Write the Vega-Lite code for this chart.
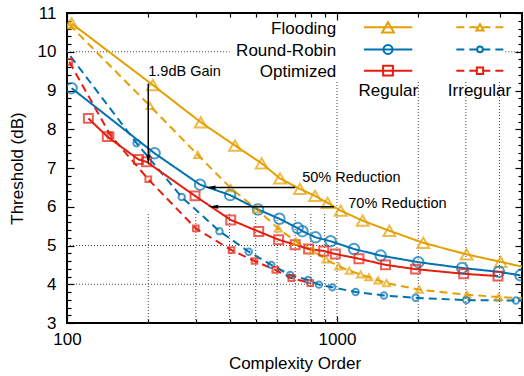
{
  "$schema": "https://vega.github.io/schema/vega-lite/v6.json",
  "width": 455,
  "height": 310,
  "autosize": {"type": "none"},
  "padding": {"left": 67, "top": 13, "right": 2, "bottom": 53},
  "config": {
    "font": "Liberation Sans",
    "view": {"stroke": "black", "strokeWidth": 2},
    "axis": {"grid": false, "domain": false, "tickColor": "black", "tickWidth": 1.2, "labelColor": "black", "titleColor": "black"}
  },
  "resolve": {"scale": {"size": "independent"}, "axis": {"x": "independent", "y": "independent"}},
  "datasets": {
    "curves": [
      {"method": "Flooding", "type": "Regular", "x": 104, "y": 10.73},
      {"method": "Flooding", "type": "Regular", "x": 208, "y": 9.14},
      {"method": "Flooding", "type": "Regular", "x": 313, "y": 8.18},
      {"method": "Flooding", "type": "Regular", "x": 419, "y": 7.58},
      {"method": "Flooding", "type": "Regular", "x": 526, "y": 7.12},
      {"method": "Flooding", "type": "Regular", "x": 615, "y": 6.73},
      {"method": "Flooding", "type": "Regular", "x": 729, "y": 6.46},
      {"method": "Flooding", "type": "Regular", "x": 829, "y": 6.28},
      {"method": "Flooding", "type": "Regular", "x": 923, "y": 6.10},
      {"method": "Flooding", "type": "Regular", "x": 1032, "y": 5.90},
      {"method": "Flooding", "type": "Regular", "x": 1245, "y": 5.64},
      {"method": "Flooding", "type": "Regular", "x": 1563, "y": 5.38},
      {"method": "Flooding", "type": "Regular", "x": 2088, "y": 5.07},
      {"method": "Flooding", "type": "Regular", "x": 3020, "y": 4.77},
      {"method": "Flooding", "type": "Regular", "x": 4038, "y": 4.58},
      {"method": "Flooding", "type": "Regular", "x": 5000, "y": 4.43},
      {"method": "Flooding", "type": "Irregular", "x": 102, "y": 10.70},
      {"method": "Flooding", "type": "Irregular", "x": 203, "y": 8.60},
      {"method": "Flooding", "type": "Irregular", "x": 305, "y": 7.34},
      {"method": "Flooding", "type": "Irregular", "x": 404, "y": 6.48},
      {"method": "Flooding", "type": "Irregular", "x": 504, "y": 5.94},
      {"method": "Flooding", "type": "Irregular", "x": 606, "y": 5.44},
      {"method": "Flooding", "type": "Irregular", "x": 705, "y": 5.10},
      {"method": "Flooding", "type": "Irregular", "x": 813, "y": 4.87},
      {"method": "Flooding", "type": "Irregular", "x": 911, "y": 4.64},
      {"method": "Flooding", "type": "Irregular", "x": 1015, "y": 4.46},
      {"method": "Flooding", "type": "Irregular", "x": 1111, "y": 4.35},
      {"method": "Flooding", "type": "Irregular", "x": 1223, "y": 4.25},
      {"method": "Flooding", "type": "Irregular", "x": 1312, "y": 4.18},
      {"method": "Flooding", "type": "Irregular", "x": 1419, "y": 4.10},
      {"method": "Flooding", "type": "Irregular", "x": 1527, "y": 4.03},
      {"method": "Flooding", "type": "Irregular", "x": 2018, "y": 3.86},
      {"method": "Flooding", "type": "Irregular", "x": 3030, "y": 3.73},
      {"method": "Flooding", "type": "Irregular", "x": 3972, "y": 3.67},
      {"method": "Flooding", "type": "Irregular", "x": 5000, "y": 3.63},
      {"method": "Round-Robin", "type": "Regular", "x": 104, "y": 9.06},
      {"method": "Round-Robin", "type": "Regular", "x": 211, "y": 7.38},
      {"method": "Round-Robin", "type": "Regular", "x": 311, "y": 6.57},
      {"method": "Round-Robin", "type": "Regular", "x": 402, "y": 6.30},
      {"method": "Round-Robin", "type": "Regular", "x": 510, "y": 5.93},
      {"method": "Round-Robin", "type": "Regular", "x": 612, "y": 5.69},
      {"method": "Round-Robin", "type": "Regular", "x": 715, "y": 5.45},
      {"method": "Round-Robin", "type": "Regular", "x": 745, "y": 5.37},
      {"method": "Round-Robin", "type": "Regular", "x": 833, "y": 5.21},
      {"method": "Round-Robin", "type": "Regular", "x": 947, "y": 5.11},
      {"method": "Round-Robin", "type": "Regular", "x": 1156, "y": 4.91},
      {"method": "Round-Robin", "type": "Regular", "x": 1451, "y": 4.74},
      {"method": "Round-Robin", "type": "Regular", "x": 2000, "y": 4.57},
      {"method": "Round-Robin", "type": "Regular", "x": 2907, "y": 4.42},
      {"method": "Round-Robin", "type": "Regular", "x": 3976, "y": 4.32},
      {"method": "Round-Robin", "type": "Regular", "x": 4780, "y": 4.23},
      {"method": "Round-Robin", "type": "Irregular", "x": 90, "y": 10.42},
      {"method": "Round-Robin", "type": "Irregular", "x": 181, "y": 7.64},
      {"method": "Round-Robin", "type": "Irregular", "x": 266, "y": 6.25},
      {"method": "Round-Robin", "type": "Irregular", "x": 367, "y": 5.37},
      {"method": "Round-Robin", "type": "Irregular", "x": 471, "y": 4.84},
      {"method": "Round-Robin", "type": "Irregular", "x": 571, "y": 4.50},
      {"method": "Round-Robin", "type": "Irregular", "x": 671, "y": 4.24},
      {"method": "Round-Robin", "type": "Irregular", "x": 782, "y": 4.11},
      {"method": "Round-Robin", "type": "Irregular", "x": 857, "y": 3.99},
      {"method": "Round-Robin", "type": "Irregular", "x": 961, "y": 3.92},
      {"method": "Round-Robin", "type": "Irregular", "x": 1172, "y": 3.80},
      {"method": "Round-Robin", "type": "Irregular", "x": 1493, "y": 3.71},
      {"method": "Round-Robin", "type": "Irregular", "x": 1955, "y": 3.65},
      {"method": "Round-Robin", "type": "Irregular", "x": 3013, "y": 3.59},
      {"method": "Round-Robin", "type": "Irregular", "x": 4600, "y": 3.58},
      {"method": "Round-Robin", "type": "Irregular", "x": 5500, "y": 3.57},
      {"method": "Optimized", "type": "Regular", "x": 120, "y": 8.28},
      {"method": "Optimized", "type": "Regular", "x": 141, "y": 7.81},
      {"method": "Optimized", "type": "Regular", "x": 184, "y": 7.22},
      {"method": "Optimized", "type": "Regular", "x": 197, "y": 7.16},
      {"method": "Optimized", "type": "Regular", "x": 298, "y": 6.28},
      {"method": "Optimized", "type": "Regular", "x": 404, "y": 5.66},
      {"method": "Optimized", "type": "Regular", "x": 513, "y": 5.36},
      {"method": "Optimized", "type": "Regular", "x": 608, "y": 5.15},
      {"method": "Optimized", "type": "Regular", "x": 700, "y": 5.02},
      {"method": "Optimized", "type": "Regular", "x": 785, "y": 4.91},
      {"method": "Optimized", "type": "Regular", "x": 893, "y": 4.86},
      {"method": "Optimized", "type": "Regular", "x": 986, "y": 4.78},
      {"method": "Optimized", "type": "Regular", "x": 1206, "y": 4.66},
      {"method": "Optimized", "type": "Regular", "x": 1512, "y": 4.50},
      {"method": "Optimized", "type": "Regular", "x": 1955, "y": 4.39},
      {"method": "Optimized", "type": "Regular", "x": 2946, "y": 4.27},
      {"method": "Optimized", "type": "Regular", "x": 3948, "y": 4.21},
      {"method": "Optimized", "type": "Irregular", "x": 102, "y": 9.74},
      {"method": "Optimized", "type": "Irregular", "x": 145, "y": 7.84},
      {"method": "Optimized", "type": "Irregular", "x": 200, "y": 6.71},
      {"method": "Optimized", "type": "Irregular", "x": 300, "y": 5.44},
      {"method": "Optimized", "type": "Irregular", "x": 407, "y": 4.88},
      {"method": "Optimized", "type": "Irregular", "x": 495, "y": 4.60},
      {"method": "Optimized", "type": "Irregular", "x": 591, "y": 4.37},
      {"method": "Optimized", "type": "Irregular", "x": 677, "y": 4.16},
      {"method": "Optimized", "type": "Irregular", "x": 796, "y": 4.03}
    ],
    "vgrid": [
      {"gx": 200, "lo": 3, "hi": 5.85},
      {"gx": 300, "lo": 3, "hi": 5.85},
      {"gx": 400, "lo": 3, "hi": 5.85},
      {"gx": 500, "lo": 3, "hi": 5.85},
      {"gx": 600, "lo": 3, "hi": 5.85},
      {"gx": 700, "lo": 3, "hi": 5.85},
      {"gx": 800, "lo": 3, "hi": 5.85},
      {"gx": 900, "lo": 3, "hi": 5.85},
      {"gx": 1000, "lo": 3, "hi": 9.27},
      {"gx": 2000, "lo": 3, "hi": 9.27},
      {"gx": 3000, "lo": 3, "hi": 9.27},
      {"gx": 4000, "lo": 3, "hi": 9.27}
    ],
    "hgrid": [
      {"gy": 4, "xa": 100, "xb": 1000},
      {"gy": 5, "xa": 100, "xb": 1000},
      {"gy": 10, "xa": 100, "xb": 400},
      {"gy": 10, "xa": 4200, "xb": 4844}
    ]
  },
  "layer": [
    {
      "data": {"name": "vgrid"},
      "mark": {"type": "rule", "strokeDash": [1, 2], "strokeWidth": 1, "color": "#444"},
      "encoding": {
        "x": {"field": "gx", "type": "quantitative", "axis": null},
        "y": {"field": "lo", "type": "quantitative", "axis": null},
        "y2": {"field": "hi"}
      }
    },
    {
      "data": {"name": "hgrid"},
      "mark": {"type": "rule", "strokeDash": [1, 2], "strokeWidth": 1, "color": "#444"},
      "encoding": {
        "y": {"field": "gy", "type": "quantitative", "axis": null},
        "x": {"field": "xa", "type": "quantitative", "axis": null},
        "x2": {"field": "xb"}
      }
    },
    {
      "data": {"name": "curves"},
      "mark": {"type": "line", "strokeWidth": 2, "clip": true},
      "encoding": {
        "x": {
          "field": "x", "type": "quantitative",
          "scale": {"type": "log", "domain": [100, 4844], "nice": false},
          "axis": {
            "orient": "bottom",
            "values": [100, 200, 300, 400, 500, 600, 700, 800, 900, 1000, 2000, 3000, 4000],
            "format": "d",
            "labelExpr": "datum.value == 100 || datum.value == 1000 ? datum.label : ''",
            "tickSize": {"condition": {"test": "datum.value == 100 || datum.value == 1000", "value": -7}, "value": -4},
            "labelFlush": false,
            "labelFontSize": 17,
            "labelPadding": 15,
            "labelOverlap": false,
            "title": "Complexity Order",
            "titleFontSize": 17,
            "titleFontWeight": "normal",
            "titlePadding": 5
          }
        },
        "y": {
          "field": "y", "type": "quantitative",
          "scale": {"domain": [3, 11], "nice": false, "zero": false},
          "axis": {
            "orient": "left",
            "values": [3, 3.2, 3.4, 3.6, 3.8, 4, 4.2, 4.4, 4.6, 4.8, 5, 5.2, 5.4, 5.6, 5.8, 6, 6.2, 6.4, 6.6, 6.8, 7, 7.2, 7.4, 7.6, 7.8, 8, 8.2, 8.4, 8.6, 8.8, 9, 9.2, 9.4, 9.6, 9.8, 10, 10.2, 10.4, 10.6, 10.8, 11],
            "labelExpr": "abs(datum.value - round(datum.value)) < 0.01 ? format(datum.value, 'd') : ''",
            "tickSize": {"condition": {"test": "abs(datum.value - round(datum.value)) < 0.01", "value": -7}, "value": -4},
            "labelFontSize": 17,
            "labelPadding": 18,
            "labelOverlap": false,
            "title": "Threshold (dB)",
            "titleFontSize": 17,
            "titleFontWeight": "normal",
            "titlePadding": 11
          }
        },
        "stroke": {
          "field": "method", "type": "nominal",
          "scale": {"domain": ["Flooding", "Round-Robin", "Optimized"], "range": ["#E69F00", "#0072B2", "#E51E10"]},
          "legend": null
        },
        "strokeDash": {
          "field": "type", "type": "nominal",
          "scale": {"domain": ["Regular", "Irregular"], "range": [[1, 0], [8, 5]]},
          "legend": null
        }
      }
    },
    {
      "data": {"name": "curves"},
      "transform": [{"filter": "datum.type == 'Regular' && datum.x >= 100 && datum.x <= 4844"}],
      "mark": {"type": "point", "filled": false, "strokeWidth": 2, "clip": true},
      "encoding": {
        "x": {"field": "x", "type": "quantitative", "axis": null},
        "y": {"field": "y", "type": "quantitative", "axis": null},
        "stroke": {"field": "method", "type": "nominal", "legend": null},
        "shape": {"field": "method", "type": "nominal", "scale": {"domain": ["Flooding", "Round-Robin", "Optimized"], "range": ["triangle-up", "circle", "square"]}, "legend": null},
        "size": {"field": "method", "type": "nominal", "scale": {"domain": ["Flooding", "Round-Robin", "Optimized"], "range": [140, 80, 95]}, "legend": null}
      }
    },
    {
      "data": {"name": "curves"},
      "transform": [{"filter": "datum.type == 'Irregular' && datum.x >= 100 && datum.x <= 4844"}],
      "mark": {"type": "point", "filled": false, "strokeWidth": 2, "clip": true},
      "encoding": {
        "x": {
          "field": "x", "type": "quantitative",
          "axis": {
            "orient": "top",
            "values": [100, 200, 300, 400, 500, 600, 700, 800, 900, 1000, 2000, 3000, 4000],
            "labels": false,
            "tickSize": {"condition": {"test": "datum.value == 100 || datum.value == 1000", "value": -7}, "value": -4},
            "title": null
          }
        },
        "y": {
          "field": "y", "type": "quantitative",
          "axis": {
            "orient": "right",
            "values": [3, 3.2, 3.4, 3.6, 3.8, 4, 4.2, 4.4, 4.6, 4.8, 5, 5.2, 5.4, 5.6, 5.8, 6, 6.2, 6.4, 6.6, 6.8, 7, 7.2, 7.4, 7.6, 7.8, 8, 8.2, 8.4, 8.6, 8.8, 9, 9.2, 9.4, 9.6, 9.8, 10, 10.2, 10.4, 10.6, 10.8, 11],
            "labels": false,
            "tickSize": {"condition": {"test": "abs(datum.value - round(datum.value)) < 0.01", "value": -7}, "value": -4},
            "title": null
          }
        },
        "stroke": {"field": "method", "type": "nominal", "legend": null},
        "shape": {"field": "method", "type": "nominal", "legend": null},
        "size": {"field": "method", "type": "nominal", "scale": {"domain": ["Flooding", "Round-Robin", "Optimized"], "range": [50, 32, 40]}, "legend": null}
      }
    },
    {
      "data": {"values": [{}]},
      "layer": [
        {
          "mark": {"type": "rule", "color": "black", "strokeWidth": 1.5},
          "encoding": {
            "x": {"datum": 200, "type": "quantitative", "axis": null},
            "y": {"datum": 9.18, "type": "quantitative", "axis": null},
            "y2": {"datum": 7.21}
          }
        },
        {
          "mark": {"type": "point", "shape": "M0,1L-0.4,-1L0.4,-1Z", "filled": true, "color": "black", "size": 100, "opacity": 1},
          "encoding": {
            "x": {"datum": 200, "type": "quantitative", "axis": null},
            "y": {"datum": 7.21, "type": "quantitative", "axis": null}
          }
        },
        {
          "mark": {"type": "text", "text": "1.9dB Gain", "align": "left", "baseline": "alphabetic", "fontSize": 14.5, "color": "black"},
          "encoding": {
            "x": {"datum": 200, "type": "quantitative", "axis": null},
            "y": {"datum": 9.37, "type": "quantitative", "axis": null}
          }
        },
        {
          "mark": {"type": "rule", "color": "black", "strokeWidth": 1.5},
          "encoding": {
            "x": {"datum": 700, "type": "quantitative", "axis": null},
            "x2": {"datum": 340},
            "y": {"datum": 6.5, "type": "quantitative", "axis": null}
          }
        },
        {
          "mark": {"type": "point", "shape": "M-1,0L1,-0.4L1,0.4Z", "filled": true, "color": "black", "size": 100, "opacity": 1},
          "encoding": {
            "x": {"datum": 340, "type": "quantitative", "axis": null},
            "y": {"datum": 6.5, "type": "quantitative", "axis": null}
          }
        },
        {
          "mark": {"type": "text", "text": "50% Reduction", "align": "left", "baseline": "alphabetic", "fontSize": 14.5, "color": "black"},
          "encoding": {
            "x": {"datum": 743, "type": "quantitative", "axis": null},
            "y": {"datum": 6.646, "type": "quantitative", "axis": null}
          }
        },
        {
          "mark": {"type": "rule", "color": "black", "strokeWidth": 1.5},
          "encoding": {
            "x": {"datum": 975, "type": "quantitative", "axis": null},
            "x2": {"datum": 348},
            "y": {"datum": 6.0, "type": "quantitative", "axis": null}
          }
        },
        {
          "mark": {"type": "point", "shape": "M-1,0L1,-0.4L1,0.4Z", "filled": true, "color": "black", "size": 100, "opacity": 1},
          "encoding": {
            "x": {"datum": 348, "type": "quantitative", "axis": null},
            "y": {"datum": 6.0, "type": "quantitative", "axis": null}
          }
        },
        {
          "mark": {"type": "text", "text": "70% Reduction", "align": "left", "baseline": "alphabetic", "fontSize": 14.5, "color": "black"},
          "encoding": {
            "x": {"datum": 1101, "type": "quantitative", "axis": null},
            "y": {"datum": 5.96, "type": "quantitative", "axis": null}
          }
        },
        {
          "mark": {"type": "text", "text": "Flooding", "align": "right", "baseline": "alphabetic", "fontSize": 17, "color": "black"},
          "encoding": {"x": {"datum": 994, "type": "quantitative", "axis": null}, "y": {"datum": 10.46, "type": "quantitative", "axis": null}}
        },
        {
          "mark": {"type": "text", "text": "Round-Robin", "align": "right", "baseline": "alphabetic", "fontSize": 17, "color": "black"},
          "encoding": {"x": {"datum": 994, "type": "quantitative", "axis": null}, "y": {"datum": 9.89, "type": "quantitative", "axis": null}}
        },
        {
          "mark": {"type": "text", "text": "Optimized", "align": "right", "baseline": "alphabetic", "fontSize": 17, "color": "black"},
          "encoding": {"x": {"datum": 994, "type": "quantitative", "axis": null}, "y": {"datum": 9.34, "type": "quantitative", "axis": null}}
        },
        {
          "mark": {"type": "text", "text": "Regular", "align": "center", "baseline": "alphabetic", "fontSize": 17, "color": "black"},
          "encoding": {"x": {"datum": 1549, "type": "quantitative", "axis": null}, "y": {"datum": 8.866, "type": "quantitative", "axis": null}}
        },
        {
          "mark": {"type": "text", "text": "Irregular", "align": "center", "baseline": "alphabetic", "fontSize": 17, "color": "black"},
          "encoding": {"x": {"datum": 3372, "type": "quantitative", "axis": null}, "y": {"datum": 8.866, "type": "quantitative", "axis": null}}
        },
        {
          "mark": {"type": "rule", "color": "#E69F00", "strokeWidth": 2},
          "encoding": {"x": {"datum": 1259, "type": "quantitative", "axis": null}, "x2": {"datum": 1900}, "y": {"datum": 10.63, "type": "quantitative", "axis": null}}
        },
        {
          "mark": {"type": "point", "shape": "triangle-up", "filled": false, "color": "#E69F00", "strokeWidth": 2, "size": 140, "opacity": 1},
          "encoding": {"x": {"datum": 1545, "type": "quantitative", "axis": null}, "y": {"datum": 10.63, "type": "quantitative", "axis": null}}
        },
        {
          "mark": {"type": "rule", "color": "#E69F00", "strokeWidth": 2, "strokeDash": [8, 5]},
          "encoding": {"x": {"datum": 2767, "type": "quantitative", "axis": null}, "x2": {"datum": 4155}, "y": {"datum": 10.63, "type": "quantitative", "axis": null}}
        },
        {
          "mark": {"type": "point", "shape": "triangle-up", "filled": false, "color": "#E69F00", "strokeWidth": 2, "size": 50, "opacity": 1},
          "encoding": {"x": {"datum": 3385, "type": "quantitative", "axis": null}, "y": {"datum": 10.63, "type": "quantitative", "axis": null}}
        },
        {
          "mark": {"type": "rule", "color": "#0072B2", "strokeWidth": 2},
          "encoding": {"x": {"datum": 1259, "type": "quantitative", "axis": null}, "x2": {"datum": 1900}, "y": {"datum": 10.06, "type": "quantitative", "axis": null}}
        },
        {
          "mark": {"type": "point", "shape": "circle", "filled": false, "color": "#0072B2", "strokeWidth": 2, "size": 80, "opacity": 1},
          "encoding": {"x": {"datum": 1545, "type": "quantitative", "axis": null}, "y": {"datum": 10.06, "type": "quantitative", "axis": null}}
        },
        {
          "mark": {"type": "rule", "color": "#0072B2", "strokeWidth": 2, "strokeDash": [8, 5]},
          "encoding": {"x": {"datum": 2767, "type": "quantitative", "axis": null}, "x2": {"datum": 4155}, "y": {"datum": 10.06, "type": "quantitative", "axis": null}}
        },
        {
          "mark": {"type": "point", "shape": "circle", "filled": false, "color": "#0072B2", "strokeWidth": 2, "size": 32, "opacity": 1},
          "encoding": {"x": {"datum": 3385, "type": "quantitative", "axis": null}, "y": {"datum": 10.06, "type": "quantitative", "axis": null}}
        },
        {
          "mark": {"type": "rule", "color": "#E51E10", "strokeWidth": 2},
          "encoding": {"x": {"datum": 1259, "type": "quantitative", "axis": null}, "x2": {"datum": 1900}, "y": {"datum": 9.51, "type": "quantitative", "axis": null}}
        },
        {
          "mark": {"type": "point", "shape": "square", "filled": false, "color": "#E51E10", "strokeWidth": 2, "size": 95, "opacity": 1},
          "encoding": {"x": {"datum": 1545, "type": "quantitative", "axis": null}, "y": {"datum": 9.51, "type": "quantitative", "axis": null}}
        },
        {
          "mark": {"type": "rule", "color": "#E51E10", "strokeWidth": 2, "strokeDash": [8, 5]},
          "encoding": {"x": {"datum": 2767, "type": "quantitative", "axis": null}, "x2": {"datum": 4155}, "y": {"datum": 9.51, "type": "quantitative", "axis": null}}
        },
        {
          "mark": {"type": "point", "shape": "square", "filled": false, "color": "#E51E10", "strokeWidth": 2, "size": 40, "opacity": 1},
          "encoding": {"x": {"datum": 3385, "type": "quantitative", "axis": null}, "y": {"datum": 9.51, "type": "quantitative", "axis": null}}
        }
      ]
    }
  ]
}
